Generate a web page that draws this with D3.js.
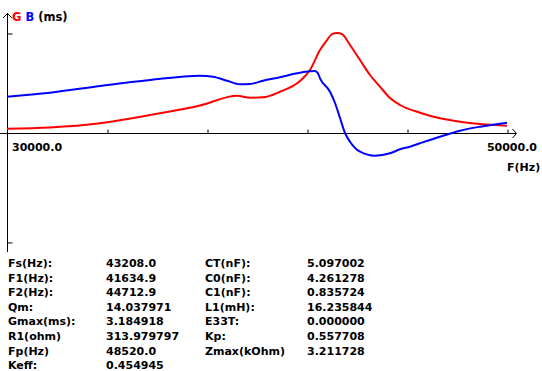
<!DOCTYPE html>
<html>
<head>
<meta charset="utf-8">
<script src="https://cdn.jsdelivr.net/npm/d3@7"></script>
<style>
  body { margin: 0; background: #fff; }
  text { font-family: "DejaVu Sans", sans-serif; font-weight: bold; font-size: 11px; }
</style>
</head>
<body>
<div id="chart"></div>
<script>
// frequency (Hz) and G / B (ms)
const freqG = [30000, 31720, 33720, 35720, 37720, 39200, 39720, 40240, 40920, 41720, 42120, 42520, 42800, 43000, 43208, 43400, 43720, 44120, 44520, 44920, 45320, 45720, 46520, 47320, 48120, 48920, 50000];
const valG  = [0.137, 0.175, 0.309, 0.573, 0.876, 1.188, 1.124, 1.137, 1.315, 1.656, 2.007, 2.644, 2.96, 3.15, 3.185, 3.15, 2.803, 2.325, 1.847, 1.475, 1.115, 0.892, 0.646, 0.468, 0.360, 0.287, 0.232];

const freqB = [30000, 31720, 33720, 35720, 37720, 38240, 38800, 39320, 39720, 40240, 40920, 41600, 42120, 42320, 42440, 42520, 42920, 43120, 43320, 43520, 43720, 44120, 44720, 45320, 45720, 46120, 46520, 47320, 48120, 48920, 50000];
const valB  = [1.156, 1.284, 1.497, 1.688, 1.825, 1.793, 1.666, 1.551, 1.561, 1.666, 1.774, 1.901, 1.968, 1.975, 1.90, 1.742, 1.315, 0.956, 0.478, 0, -0.277, -0.595, -0.723, -0.647, -0.519, -0.436, -0.328, -0.118, 0.073, 0.201, 0.328];

const xTicks = [34000, 38000, 42000, 46000, 50000];
const yTicks = [3.184918, -3.47];

const paramLabels1 = ["Fs(Hz):", "F1(Hz):", "F2(Hz):", "Qm:", "Gmax(ms):", "R1(ohm)", "Fp(Hz)", "Keff:"];
const paramValues1 = ["43208.0", "41634.9", "44712.9", "14.037971", "3.184918", "313.979797", "48520.0", "0.454945"];
const paramLabels2 = ["CT(nF):", "C0(nF):", "C1(nF):", "L1(mH):", "E33T:", "Kp:", "Zmax(kOhm)"];
const paramValues2 = ["5.097002", "4.261278", "0.835724", "16.235844", "0.000000", "0.557708", "3.211728"];

const width = 542, height = 371;

const svg = d3.select("#chart").append("svg")
    .attr("width", width)
    .attr("height", height);

const x = d3.scaleLinear().domain([30000, 50000]).range([7, 507]);
const y = d3.scaleLinear().domain([0, 3.184918]).range([133, 33]);

// axes
svg.append("line")
    .attr("x1", 0).attr("x2", 516).attr("y1", y(0) + 0.5).attr("y2", y(0) + 0.5)
    .attr("stroke", "#000");
svg.append("path")
    .attr("d", `M512.5,129 L516.5,133.5 L512.5,138`)
    .attr("fill", "none").attr("stroke", "#000");

svg.append("line")
    .attr("x1", x(30000) + 0.5).attr("x2", x(30000) + 0.5).attr("y1", 13).attr("y2", 252)
    .attr("stroke", "#000");
svg.append("path")
    .attr("d", `M3,18 L7.5,13.5 L12,18`)
    .attr("fill", "none").attr("stroke", "#000");

const gx = svg.append("g")
    .attr("transform", `translate(0.5, ${y(0) + 0.5})`)
    .call(d3.axisTop(x).tickValues(xTicks).tickSize(4).tickFormat(""));
gx.select(".domain").remove();

const gy = svg.append("g")
    .attr("transform", `translate(${x(30000) + 0.5}, 0.5)`)
    .call(d3.axisRight(y).tickValues(yTicks).tickSize(5).tickFormat(""));
gy.select(".domain").remove();

// curves
const lineG = d3.line().x((d, i) => x(freqG[i])).y(d => y(d)).curve(d3.curveMonotoneX);
const lineB = d3.line().x((d, i) => x(freqB[i])).y(d => y(d)).curve(d3.curveMonotoneX);

svg.append("path").datum(valG)
    .attr("d", lineG).attr("fill", "none").attr("stroke", "#ff0000").attr("stroke-width", 2);
svg.append("path").datum(valB)
    .attr("d", lineB).attr("fill", "none").attr("stroke", "#0000ff").attr("stroke-width", 2);

// axis titles
const title = svg.append("text").attr("x", 12).attr("y", 21).style("font-size", "11.5px");
title.append("tspan").attr("fill", "#ff0000").text("G");
title.append("tspan").attr("fill", "#0000ff").text(" B");
title.append("tspan").attr("fill", "#000").text(" (ms)");

svg.append("text").attr("x", 12).attr("y", 151).text("30000.0");
svg.append("text").attr("x", 537).attr("y", 151).attr("text-anchor", "end").text("50000.0");
svg.append("text").attr("x", 507).attr("y", 171).text("F(Hz)");

// parameter table
const rowY = i => 267 + i * 14.6;
svg.selectAll(".l1").data(paramLabels1).enter().append("text")
    .attr("x", 8).attr("y", (d, i) => rowY(i)).text(d => d);
svg.selectAll(".v1").data(paramValues1).enter().append("text")
    .attr("x", 106).attr("y", (d, i) => rowY(i)).text(d => d);
svg.selectAll(".l2").data(paramLabels2).enter().append("text")
    .attr("x", 205).attr("y", (d, i) => rowY(i)).text(d => d);
svg.selectAll(".v2").data(paramValues2).enter().append("text")
    .attr("x", 307).attr("y", (d, i) => rowY(i)).text(d => d);
</script>
</body>
</html>
